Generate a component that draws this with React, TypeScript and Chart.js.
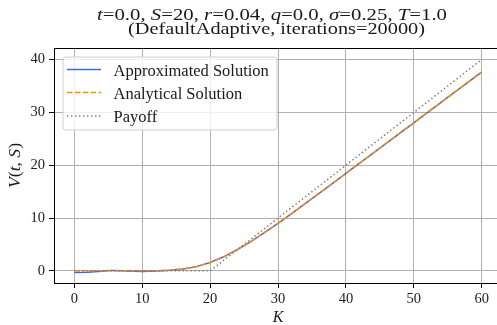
import React, { useEffect, useRef } from "react";
import { Chart, registerables } from "chart.js";

Chart.register(...registerables);

// Strike prices and option values V(t, S) for each curve
const strikes = [0, 2, 4, 5, 6, 8, 10, 12, 14, 16, 18, 20, 22, 24, 26, 28, 30, 32, 34, 36, 38, 40, 45, 50, 55, 60];
const approxValues = [-0.3, -0.25, -0.08, 0.05, 0.06, -0.04, -0.1, -0.04, 0.1, 0.33, 0.8, 1.58, 2.66, 4.01, 5.55, 7.24, 9.01, 10.85, 12.73, 14.62, 16.53, 18.44, 23.25, 28.04, 32.84, 37.65];
const analyticValues = [0, 0, 0, 0, 0, 0, 0, 0.02, 0.1, 0.33, 0.81, 1.58, 2.66, 4.01, 5.55, 7.24, 9.01, 10.85, 12.73, 14.62, 16.53, 18.44, 23.25, 28.04, 32.84, 37.65];
const payoffStrikes = [0, 20, 60];
const payoffValues = [0, 0, 40];

const seriesLabels = ["Approximated Solution", "Analytical Solution", "Payoff"];
const seriesColors = ["#4169e1", "#ff8c00", "#808080"];
const seriesDashes: number[][] = [[], [5.5, 2.4], [1.5, 2.5]];

const xLimits = [-3, 63];
const yLimits = [-2.3, 42.2];
const tickStep = 10;

const FAMILY = '"Liberation Serif", "Times New Roman", serif';

type Run = { text: string; italic?: boolean };

const titleLine1: Run[] = [
  { text: "t", italic: true }, { text: "=0.0, " },
  { text: "S", italic: true }, { text: "=20, " },
  { text: "r", italic: true }, { text: "=0.04, " },
  { text: "q", italic: true }, { text: "=0.0, " },
  { text: "σ", italic: true }, { text: "=0.25, " },
  { text: "T", italic: true }, { text: "=1.0" },
];
const titleLine2: Run[] = [{ text: "(DefaultAdaptive, iterations=20000)" }];
const yAxisLabel: Run[] = [
  { text: "V", italic: true }, { text: "(" }, { text: "t", italic: true },
  { text: ", " }, { text: "S", italic: true }, { text: ")" },
];
const xAxisLabel: Run[] = [{ text: "K", italic: true }];

// Draws a sequence of mixed upright/italic runs spanning [x0, x1] on a baseline
function drawRuns(ctx: CanvasRenderingContext2D, runs: Run[], x0: number, x1: number | null, baseline: number, size: number) {
  const fonts = runs.map((r) => `${r.italic ? "italic " : ""}${size}px ${FAMILY}`);
  const widths = runs.map((r, i) => {
    ctx.font = fonts[i];
    return ctx.measureText(r.text).width;
  });
  const total = widths.reduce((a, b) => a + b, 0);
  const sx = x1 === null ? 1 : (x1 - x0) / total;
  ctx.save();
  ctx.translate(x0, baseline);
  ctx.scale(sx, 1);
  ctx.textAlign = "left";
  ctx.textBaseline = "alphabetic";
  let x = 0;
  runs.forEach((r, i) => {
    ctx.font = fonts[i];
    ctx.fillText(r.text, x, 0);
    x += widths[i];
  });
  ctx.restore();
  return total * sx;
}

function measureRuns(ctx: CanvasRenderingContext2D, runs: Run[], size: number) {
  let total = 0;
  runs.forEach((r) => {
    ctx.font = `${r.italic ? "italic " : ""}${size}px ${FAMILY}`;
    total += ctx.measureText(r.text).width;
  });
  return total;
}

const overlayPlugin = {
  id: "overlay",
  afterDraw(chart: any) {
    const ctx: CanvasRenderingContext2D = chart.ctx;
    const area = chart.chartArea;
    ctx.save();

    // top spine
    ctx.strokeStyle = "#000";
    ctx.lineWidth = 1;
    ctx.beginPath();
    ctx.moveTo(area.left, Math.round(area.top) + 0.5);
    ctx.lineTo(area.right, Math.round(area.top) + 0.5);
    ctx.stroke();

    ctx.fillStyle = "#1a1a1a";
    // title
    drawRuns(ctx, titleLine1, 97, 447, 19.5, 16.5);
    drawRuns(ctx, titleLine2, 128, 425, 33.5, 16.5);

    // x axis label
    const kw = measureRuns(ctx, xAxisLabel, 16);
    drawRuns(ctx, xAxisLabel, (area.left + area.right) / 2 - kw / 2, null, 322, 16);

    // y axis label (rotated)
    ctx.save();
    ctx.translate(20, (area.top + area.bottom) / 2);
    ctx.rotate(-Math.PI / 2);
    drawRuns(ctx, yAxisLabel, -22.5, 22.5, 0, 16);
    ctx.restore();

    // legend
    const lx = 63, ly = 57, lw = 214, lh = 73, rad = 3;
    ctx.beginPath();
    ctx.moveTo(lx + rad, ly);
    ctx.arcTo(lx + lw, ly, lx + lw, ly + lh, rad);
    ctx.arcTo(lx + lw, ly + lh, lx, ly + lh, rad);
    ctx.arcTo(lx, ly + lh, lx, ly, rad);
    ctx.arcTo(lx, ly, lx + lw, ly, rad);
    ctx.closePath();
    ctx.fillStyle = "rgba(255,255,255,0.8)";
    ctx.fill();
    ctx.strokeStyle = "#d0d0d0";
    ctx.lineWidth = 1;
    ctx.stroke();

    const rows = [69.5, 92.5, 116];
    chart.data.datasets.forEach((ds: any, i: number) => {
      const y = rows[i];
      ctx.strokeStyle = ds.borderColor;
      ctx.lineWidth = ds.borderWidth;
      ctx.setLineDash(ds.borderDash || []);
      ctx.beginPath();
      ctx.moveTo(67, y);
      ctx.lineTo(101, y);
      ctx.stroke();
      ctx.setLineDash([]);
      ctx.fillStyle = "#1a1a1a";
      ctx.font = `16.5px ${FAMILY}`;
      ctx.textBaseline = "alphabetic";
      ctx.textAlign = "left";
      ctx.fillText(ds.label, 113.5, y + 6);
    });

    ctx.restore();
  },
};

export default function App() {
  const canvasRef = useRef<HTMLCanvasElement | null>(null);

  useEffect(() => {
    const canvas = canvasRef.current;
    if (!canvas) return;
    const approxData = strikes.map((k, i) => ({ x: k, y: approxValues[i] }));
    const analyticData = strikes.map((k, i) => ({ x: k, y: analyticValues[i] }));
    const payoffData = payoffStrikes.map((k, i) => ({ x: k, y: payoffValues[i] }));
    const tickFont = { family: FAMILY, size: 14.5 };

    const chart = new Chart(canvas, {
      type: "line",
      data: {
        datasets: [
          { label: seriesLabels[0], data: approxData, borderColor: seriesColors[0], borderDash: seriesDashes[0], borderWidth: 1.5, pointRadius: 0, tension: 0, order: 2 },
          { label: seriesLabels[1], data: analyticData, borderColor: seriesColors[1], borderDash: seriesDashes[1], borderWidth: 1.5, pointRadius: 0, tension: 0, order: 1 },
          { label: seriesLabels[2], data: payoffData, borderColor: seriesColors[2], borderDash: seriesDashes[2], borderWidth: 1.5, pointRadius: 0, tension: 0, order: 0 },
        ],
      },
      options: {
        responsive: false,
        animation: false,
        devicePixelRatio: 1,
        layout: { padding: { top: 48, right: 8, left: 0, bottom: 0 } },
        plugins: {
          legend: { display: false },
          title: { display: false },
          tooltip: { enabled: false },
        },
        scales: {
          x: {
            type: "linear",
            min: xLimits[0],
            max: xLimits[1],
            afterFit: (s: any) => { s.height = 42; },
            ticks: { stepSize: tickStep, includeBounds: false, font: tickFont, color: "#222", padding: 2, maxRotation: 0 },
            grid: { color: "#b0b0b0", lineWidth: 1, tickColor: "#000", tickLength: 5 },
            border: { color: "#000", width: 1 },
          },
          y: {
            type: "linear",
            min: yLimits[0],
            max: yLimits[1],
            afterFit: (s: any) => { s.width = 54; },
            ticks: { stepSize: tickStep, includeBounds: false, font: tickFont, color: "#222", padding: 4 },
            grid: { color: "#b0b0b0", lineWidth: 1, tickColor: "#000", tickLength: 5 },
            border: { color: "#000", width: 1 },
          },
        },
      },
      plugins: [overlayPlugin],
    } as any);

    return () => chart.destroy();
  }, []);

  return (
    <div style={{ position: "fixed", left: 0, top: 0, width: 497, height: 325, overflow: "hidden", background: "#fff" }}>
      <canvas ref={canvasRef} width={510} height={325} style={{ width: 510, height: 325, display: "block" }} />
    </div>
  );
}
